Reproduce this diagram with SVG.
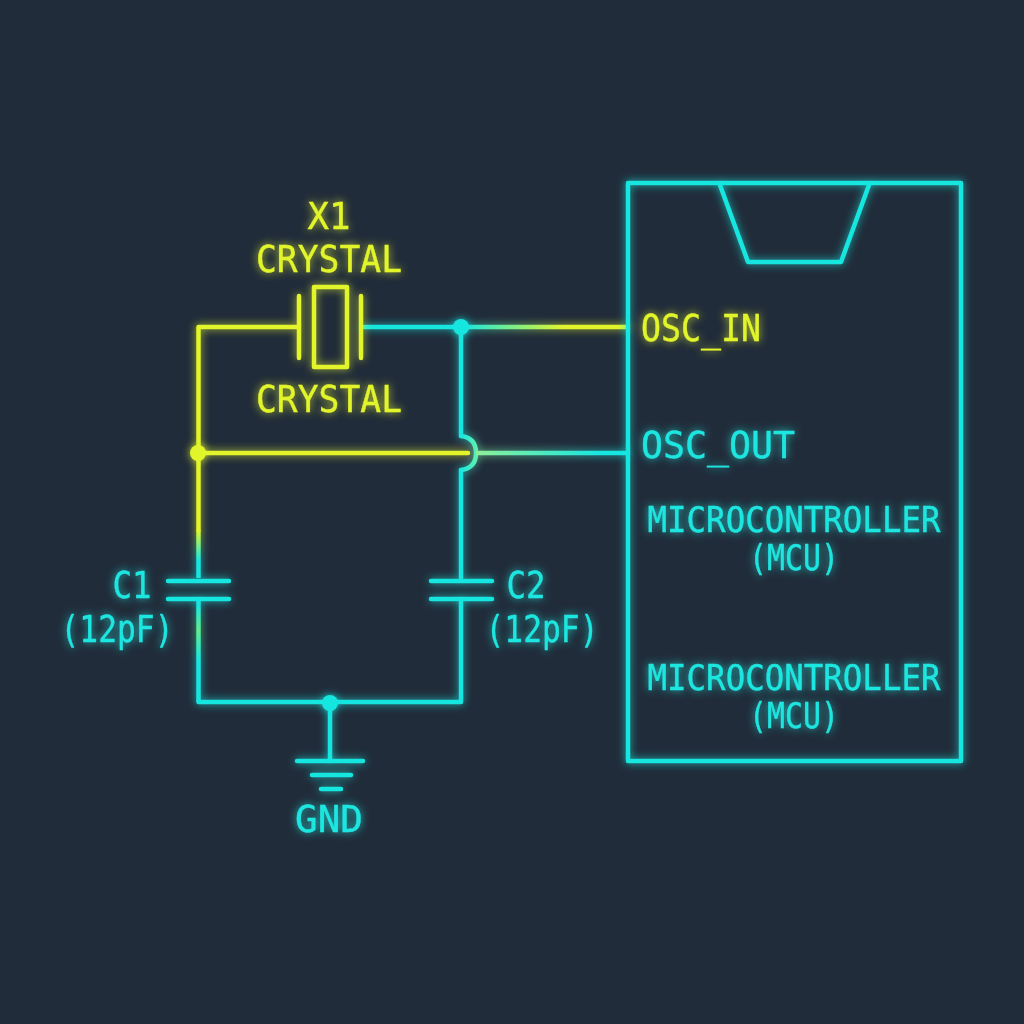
<svg xmlns="http://www.w3.org/2000/svg" width="1024" height="1024" viewBox="0 0 1024 1024">
<style>
.w{fill:none;stroke-width:4.5;stroke-linecap:round;stroke-linejoin:round}
.c{stroke:#19e6e0}.y{stroke:#e2f52c}
.t{font-family:"DejaVu Sans Mono","Liberation Mono",monospace;font-size:38px;text-anchor:middle;stroke-width:.4px}
.s{font-size:35px}
.tc{fill:#1fe6e0;stroke:#1fe6e0}.ty{fill:#e2f52c;stroke:#e2f52c}
.dc{fill:#19e6e0}.dy{fill:#e2f52c}
</style>
<defs>
<filter id="g" x="-20%" y="-20%" width="140%" height="140%" filterUnits="objectBoundingBox"><feGaussianBlur in="SourceGraphic" stdDeviation="4" result="b"/><feComponentTransfer in="b" result="b2"><feFuncA type="linear" slope=".8"/></feComponentTransfer><feMerge><feMergeNode in="b2"/><feMergeNode in="SourceGraphic"/></feMerge></filter>
<linearGradient id="g1" gradientUnits="userSpaceOnUse" x1="462" y1="0" x2="565" y2="0"><stop offset="0" stop-color="#19e6e0"/><stop offset="1" stop-color="#e2f52c"/></linearGradient>
<linearGradient id="g2" gradientUnits="userSpaceOnUse" x1="477" y1="0" x2="600" y2="0"><stop offset="0" stop-color="#8cf09a"/><stop offset="1" stop-color="#19e6e0"/></linearGradient>
<linearGradient id="g3" gradientUnits="userSpaceOnUse" x1="0" y1="530" x2="0" y2="560"><stop offset="0" stop-color="#e2f52c"/><stop offset="1" stop-color="#19e6e0"/></linearGradient>
<linearGradient id="g4" gradientUnits="userSpaceOnUse" x1="0" y1="605" x2="0" y2="660"><stop offset="0" stop-color="#19e6e0"/><stop offset=".45" stop-color="#60ec90"/><stop offset="1" stop-color="#19e6e0"/></linearGradient>
<linearGradient id="g5" gradientUnits="userSpaceOnUse" x1="461" y1="0" x2="477" y2="0"><stop offset="0" stop-color="#19e6e0"/><stop offset="1" stop-color="#60f0b0"/></linearGradient>
</defs>
<rect width="1024" height="1024" fill="#212c3a"/>
<g id="connectors" filter="url(#g)">
<path class="y" fill="none" stroke-width="4.500" stroke-linejoin="round" d="M297 327H198.500V531"/>
<path d="M198.500 530V578" fill="none" stroke="url(#g3)" stroke-width="4.500"/>
<path d="M198.500 600V702" fill="none" stroke="url(#g4)" stroke-width="4.500"/>
<path class="w c" d="M198.500 702H461V600"/>
<path class="w c" d="M461 578V470M461 436V327"/>
<path class="w" d="M461 436Q476 438 476 453Q476 468 461 470" stroke="url(#g5)"/>
<path class="w c" d="M364 327H461"/>
<path class="w" d="M461 327H627" stroke="url(#g1)"/>
<path class="w y" d="M198 453H468"/>
<path class="w" d="M478 453H627" stroke="url(#g2)"/>
<path class="w c" d="M330 702V760"/>
</g>
<g id="junctions" filter="url(#g)">
<circle class="dy" cx="198" cy="453" r="8"/>
<circle class="dc" cx="461" cy="327" r="8"/>
<circle class="dc" cx="330" cy="703" r="8"/>
</g>
<g id="x1" filter="url(#g)">
<path class="w y" d="M299 296V358M361 296V358"/>
<rect class="w y" x="314" y="287" width="33" height="80"/>
<text class="t ty" x="329" y="229" textLength="43" lengthAdjust="spacingAndGlyphs">X1</text>
<text class="t ty" x="329" y="272" textLength="146" lengthAdjust="spacingAndGlyphs">CRYSTAL</text>
<text class="t ty" x="329" y="412" textLength="146" lengthAdjust="spacingAndGlyphs">CRYSTAL</text>
</g>
<g id="c1" filter="url(#g)">
<path class="w c" d="M168 581H229M168 599H229"/>
<text class="t tc" x="132" y="598" textLength="39" lengthAdjust="spacingAndGlyphs">C1</text>
<text class="t tc" x="117" y="642" textLength="113" lengthAdjust="spacingAndGlyphs">(12pF)</text>
</g>
<g id="c2" filter="url(#g)">
<path class="w c" d="M431 581H492M431 599H492"/>
<text class="t tc" x="526" y="598" textLength="39" lengthAdjust="spacingAndGlyphs">C2</text>
<text class="t tc" x="542" y="642" textLength="113" lengthAdjust="spacingAndGlyphs">(12pF)</text>
</g>
<g id="gnd" filter="url(#g)">
<path class="w c" d="M297 761H363M312 775H351M321 789H341"/>
<text class="t tc" x="329" y="832" textLength="68" lengthAdjust="spacingAndGlyphs">GND</text>
</g>
<g id="mcu" filter="url(#g)">
<rect class="w c" x="628" y="183" width="333" height="578"/>
<path class="w c" d="M720 185L748 262H841L869 185"/>
<text class="t ty" x="701" y="341" textLength="120" lengthAdjust="spacingAndGlyphs">OSC_IN</text>
<text class="t tc" x="718" y="458" textLength="154" lengthAdjust="spacingAndGlyphs">OSC_OUT</text>
<text class="t s tc" x="794" y="532" textLength="293" lengthAdjust="spacingAndGlyphs">MICROCONTROLLER</text>
<text class="t s tc" x="794" y="570" textLength="90" lengthAdjust="spacingAndGlyphs">(MCU)</text>
<text class="t s tc" x="794" y="690" textLength="293" lengthAdjust="spacingAndGlyphs">MICROCONTROLLER</text>
<text class="t s tc" x="794" y="728" textLength="90" lengthAdjust="spacingAndGlyphs">(MCU)</text>
</g>
</svg>
